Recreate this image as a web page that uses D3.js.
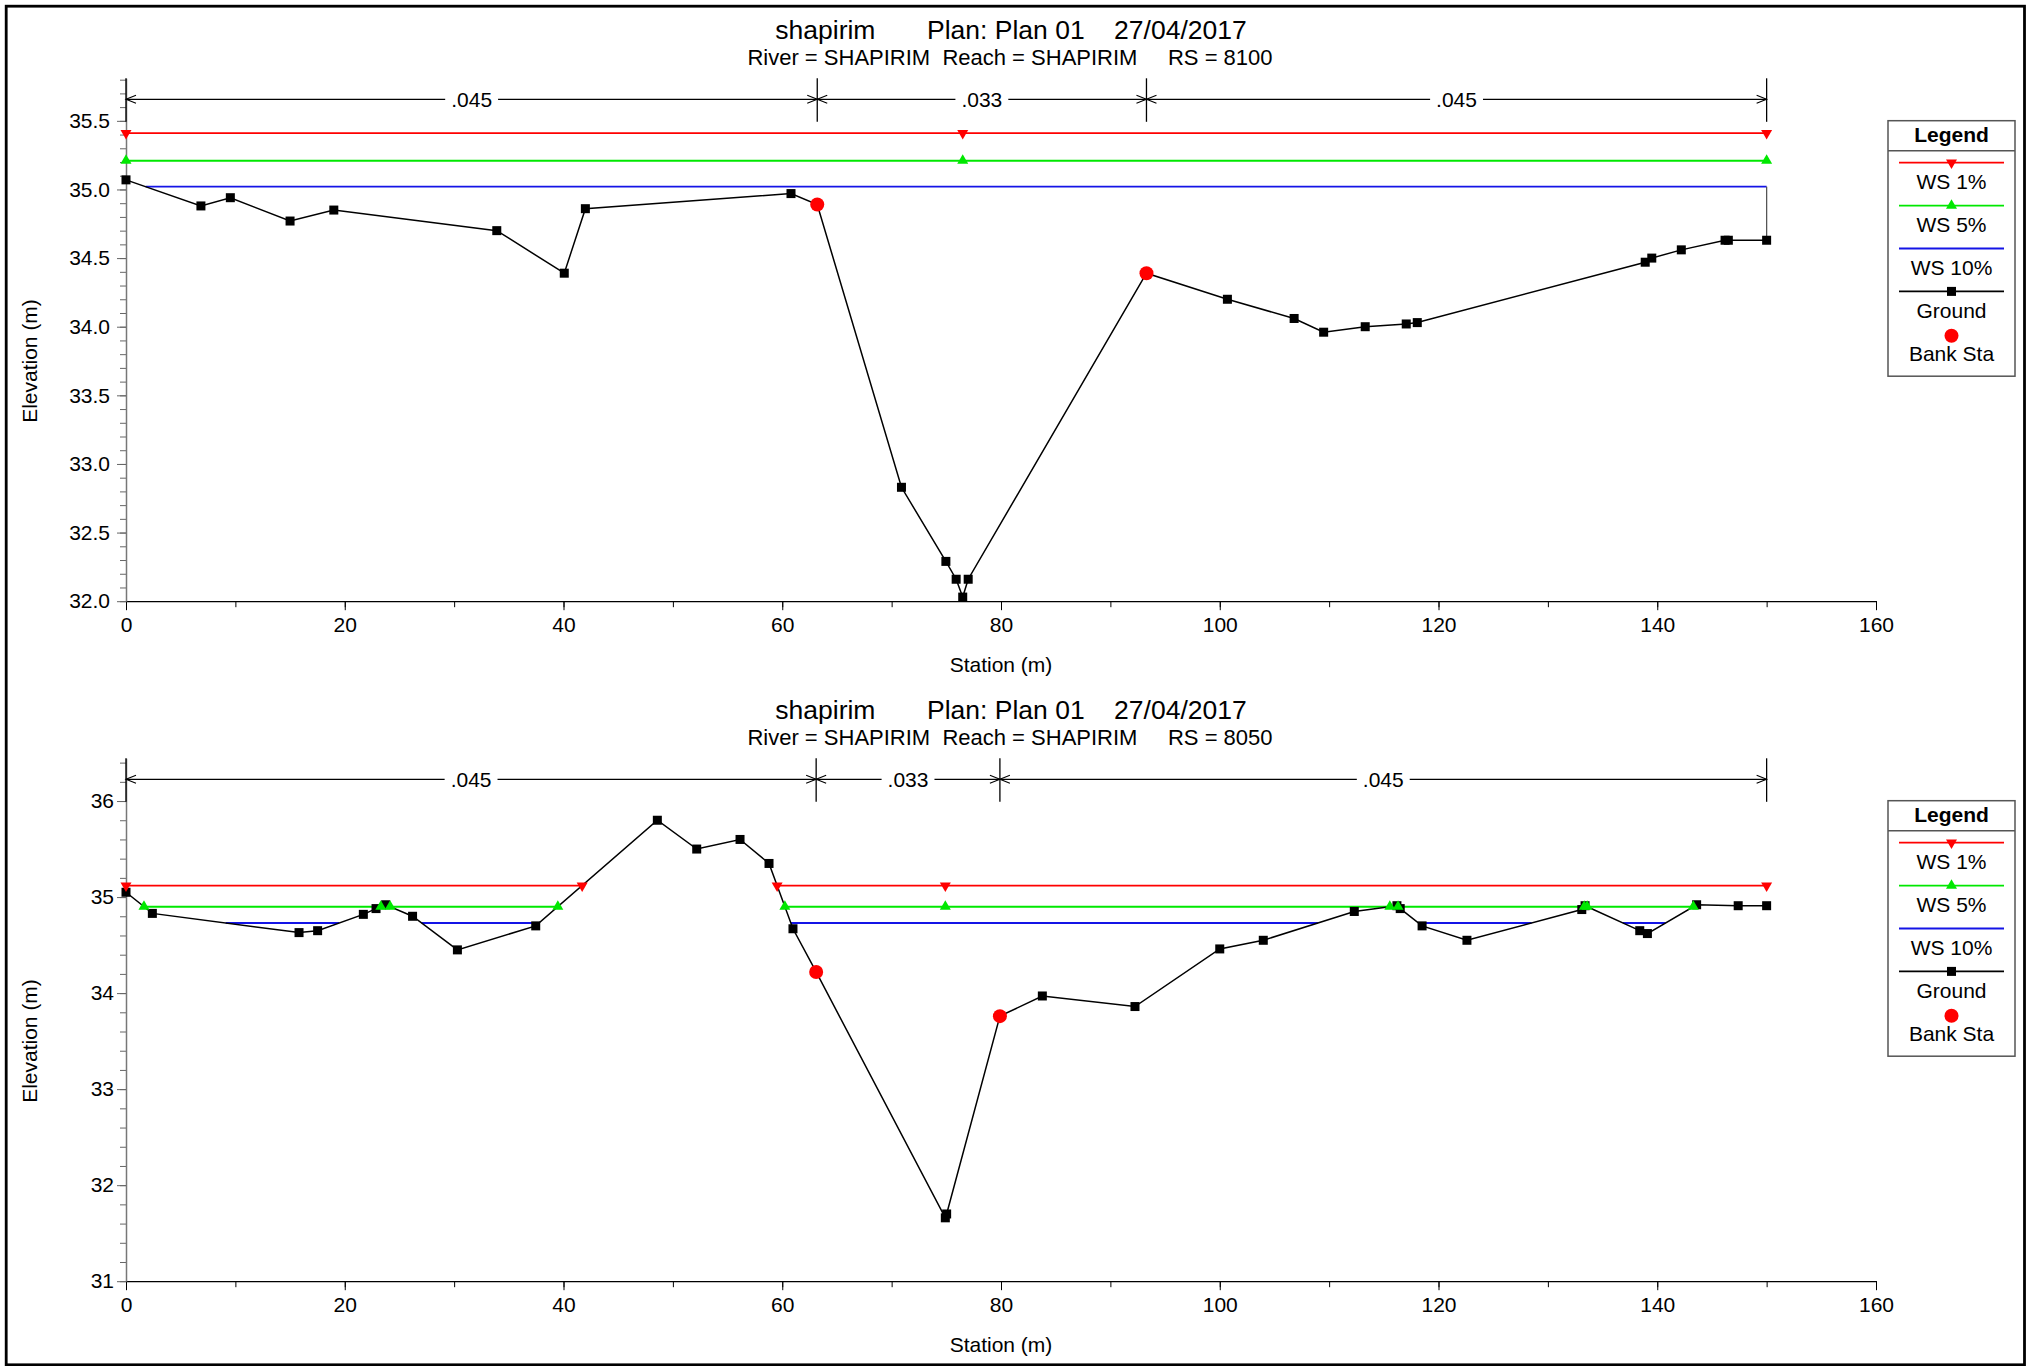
<!DOCTYPE html>
<html>
<head>
<meta charset="utf-8">
<script src="https://cdn.jsdelivr.net/npm/d3@7"></script>
<style>
    body { margin: 0; background: #fff; }
    svg text { font-family: "Liberation Sans", Arial, sans-serif; fill: #000; }
</style>
</head>
<body>
<div id="chart"></div>
<script>

const stationTicks = [0, 20, 40, 60, 80, 100, 120, 140, 160];
const profileNames = ["WS 1%", "WS 5%", "WS 10%"];

// RS 8100
const topStations = [0, 6.85, 9.54, 15.0, 19.0, 33.9, 40.07, 42.0, 60.8, 63.2, 70.9, 74.96, 75.9, 76.5, 77.0,
    93.3, 100.7, 106.8, 109.5, 113.3, 117.05, 118.06, 138.9, 139.5, 142.2, 146.2, 146.5, 150];
const topElevations = [35.07, 34.88, 34.94, 34.77, 34.85, 34.70, 34.39, 34.86, 34.97, 34.89, 32.83, 32.29, 32.16, 32.03, 32.16,
    34.39, 34.20, 34.06, 33.96, 34.00, 34.02, 34.03, 34.47, 34.50, 34.56, 34.63, 34.63, 34.63];
const topBankStations = [63.2, 93.3];
const topWaterSurface = [35.41, 35.21, 35.02];
const topNBreaks = [0, 63.2, 93.3, 150];
const topNValues = [".045", ".033", ".045"];
const topElevTicks = [32.0, 32.5, 33.0, 33.5, 34.0, 34.5, 35.0, 35.5];

// RS 8050
const botStations = [0, 2.41, 15.82, 17.52, 21.7, 22.86, 23.74, 26.2, 30.3, 37.46, 48.58, 52.18, 56.14, 58.79, 60.98, 63.1,
    74.91, 75.03, 79.9, 83.78, 92.25, 100.0, 103.98, 112.3, 116.2, 116.5, 118.5, 122.6, 133.1, 133.4, 138.4, 139.1,
    143.6, 147.4, 150];
const botElevations = [35.05, 34.83, 34.63, 34.65, 34.82, 34.88, 34.92, 34.80, 34.45, 34.70, 35.80, 35.50, 35.60, 35.35, 34.67, 34.22,
    31.66, 31.70, 33.76, 33.97, 33.86, 34.46, 34.55, 34.85, 34.91, 34.88, 34.70, 34.55, 34.87, 34.91, 34.65, 34.62,
    34.92, 34.91, 34.91];
const botBankStations = [63.1, 79.9];
const botWaterSurface = [35.12, 34.90, 34.73];
const botNBreaks = [0, 63.1, 79.9, 150];
const botNValues = [".045", ".033", ".045"];
const botElevTicks = [31, 32, 33, 34, 35, 36];

// styles
const wsColors = ["#ff0000", "#00e800", "#1414e6"];
const wsMarkers = ["down", "up", null];


/* * * * * * * * * * * * * *
*       CrossSection       *
* * * * * * * * * * * * * */

class CrossSection {
    constructor(svg, cfg) {
        this.svg = svg;
        this.cfg = cfg;
        this.initVis();
    }

    initVis() {
        let vis = this;
        let cfg = vis.cfg;

        vis.g = vis.svg.append("g")
            .attr("transform", `translate(0, ${cfg.offsetY})`);

        vis.plotTop = 78.3;
        vis.plotBottom = 601.2;

        vis.x = d3.scaleLinear().domain([0, 160]).range([126, 1876]);
        vis.y = d3.scaleLinear().domain(cfg.yDomain).range([vis.plotBottom, vis.plotTop]);

        // titles
        vis.g.append("text")
            .attr("x", 1011).attr("y", 38.5)
            .attr("text-anchor", "middle")
            .style("font-size", "26.5px")
            .style("white-space", "pre")
            .text("shapirim       Plan: Plan 01    27/04/2017");

        vis.g.append("text")
            .attr("x", 1010).attr("y", 65)
            .attr("text-anchor", "middle")
            .style("font-size", "22px")
            .style("white-space", "pre")
            .text(`River = SHAPIRIM  Reach = SHAPIRIM     RS = ${cfg.rs}`);

        // axes: minor ticks first, then labelled ones
        let xAxisMinor = d3.axisBottom(vis.x).tickValues(d3.range(0, 161, 10)).tickSize(6).tickFormat("");
        let xAxis = d3.axisBottom(vis.x).tickValues(stationTicks).tickSize(9).tickSizeOuter(0).tickPadding(7)
            .tickFormat(d3.format("d"));

        vis.g.append("g").attr("class", "x-minor")
            .attr("transform", `translate(0, ${vis.plotBottom})`)
            .call(xAxisMinor)
            .call(g => g.select(".domain").remove());

        vis.xAxisG = vis.g.append("g")
            .attr("transform", `translate(0, ${vis.plotBottom})`)
            .call(xAxis);

        let yAxisMinor = d3.axisLeft(vis.y).tickValues(cfg.minorTicks).tickSize(6).tickFormat("");
        let yAxis = d3.axisLeft(vis.y).tickValues(cfg.elevTicks).tickSize(9).tickSizeOuter(0)
            .tickPadding(cfg.yPad).tickFormat(d3.format(cfg.yFormat));

        vis.g.append("g")
            .attr("transform", `translate(${vis.x(0)}, 0)`)
            .call(yAxisMinor)
            .call(g => g.select(".domain").remove())
            .selectAll("line").attr("stroke", "#666");

        vis.yAxisG = vis.g.append("g")
            .attr("transform", `translate(${vis.x(0)}, 0)`)
            .call(yAxis);
        vis.yAxisG.select(".domain").attr("stroke", "#777").attr("stroke-width", 1.5);
        vis.yAxisG.selectAll("line").attr("stroke", "#666");

        vis.xAxisG.select(".domain").attr("stroke", "#000").attr("stroke-width", 1.2);
        vis.g.selectAll(".tick text").style("font-size", "21px").attr("fill", "#000");

        // axis titles
        vis.g.append("text")
            .attr("x", 1001).attr("y", 672)
            .attr("text-anchor", "middle")
            .style("font-size", "21px")
            .text("Station (m)");

        vis.g.append("text")
            .attr("transform", `translate(37, 361) rotate(-90)`)
            .attr("text-anchor", "middle")
            .style("font-size", "21px")
            .text("Elevation (m)");

        vis.wrangleData();
    }

    wrangleData() {
        let vis = this;
        let cfg = vis.cfg;

        vis.ground = cfg.stations.map((s, i) => ({ sta: s, elev: cfg.elevations[i] }));
        vis.banks = cfg.banks.map(s => vis.ground.find(p => p.sta === s));
        vis.thalweg = vis.ground.reduce((a, b) => (b.elev < a.elev ? b : a));

        // wet extents of each water surface along the ground profile
        vis.profiles = cfg.ws.map((w, k) => {
            let segs = [];
            let start = null;
            vis.ground.forEach((p, i) => {
                let wet = p.elev < w;
                if (i === 0) {
                    if (wet) start = p.sta;
                    return;
                }
                let q = vis.ground[i - 1];
                if (wet !== (q.elev < w)) {
                    let s = q.sta + (w - q.elev) / (p.elev - q.elev) * (p.sta - q.sta);
                    if (wet) start = s;
                    else { segs.push({ a: start, b: s, openEnd: false }); start = null; }
                }
            });
            let last = vis.ground[vis.ground.length - 1];
            if (start !== null) segs.push({ a: start, b: last.sta, openEnd: true, groundEnd: last.elev });

            let marks = [];
            segs.forEach(sg => {
                marks.push(sg.a, sg.b);
                if (vis.thalweg.sta > sg.a && vis.thalweg.sta < sg.b) marks.push(vis.thalweg.sta);
            });
            return { name: profileNames[k], level: w, color: wsColors[k], marker: wsMarkers[k], segs: segs, marks: marks };
        });

        vis.updateVis();
    }

    updateVis() {
        let vis = this;
        let cfg = vis.cfg;

        // Manning's n bracket across the top
        let nY = 99.3;
        let nG = vis.g.append("g");
        cfg.nBreaks.forEach(b => {
            nG.append("line")
                .attr("x1", vis.x(b)).attr("x2", vis.x(b))
                .attr("y1", vis.plotTop).attr("y2", vis.plotTop + 43.5)
                .attr("stroke", "#000").attr("stroke-width", 1.3);
        });
        cfg.nValues.forEach((n, i) => {
            let x0 = vis.x(cfg.nBreaks[i]), x1 = vis.x(cfg.nBreaks[i + 1]);
            nG.append("line")
                .attr("x1", x0).attr("x2", x1).attr("y1", nY).attr("y2", nY)
                .attr("stroke", "#000").attr("stroke-width", 1.2);
            nG.append("path")
                .attr("d", `M${x0 + 10},${nY - 4}L${x0},${nY}L${x0 + 10},${nY + 4}M${x1 - 10},${nY - 4}L${x1},${nY}L${x1 - 10},${nY + 4}`)
                .attr("fill", "none").attr("stroke", "#000").attr("stroke-width", 1.1);
            let bg = nG.append("rect").attr("fill", "#fff");
            let t = nG.append("text")
                .attr("x", (x0 + x1) / 2).attr("y", nY + 8)
                .attr("text-anchor", "middle")
                .style("font-size", "21px")
                .text(n);
            let w = t.node().getComputedTextLength() + 12;
            bg.attr("x", (x0 + x1) / 2 - w / 2).attr("y", nY - 10).attr("width", w).attr("height", 20);
        });

        // water surfaces
        vis.profiles.forEach((p, k) => {
            p.segs.forEach(sg => {
                vis.g.append("line")
                    .attr("x1", vis.x(sg.a)).attr("x2", vis.x(sg.b))
                    .attr("y1", vis.y(p.level)).attr("y2", vis.y(p.level))
                    .attr("stroke", p.color).attr("stroke-width", k === 1 ? 2 : 1.8);
                // end wall down to ground for the lowest profile
                if (sg.openEnd && k === vis.profiles.length - 1) {
                    vis.g.append("line")
                        .attr("x1", vis.x(sg.b)).attr("x2", vis.x(sg.b))
                        .attr("y1", vis.y(p.level)).attr("y2", vis.y(sg.groundEnd))
                        .attr("stroke", "#555").attr("stroke-width", 1.3);
                }
            });
        });

        // ground line
        let line = d3.line().x(d => vis.x(d.sta)).y(d => vis.y(d.elev));
        vis.g.append("path")
            .datum(vis.ground)
            .attr("d", line)
            .attr("fill", "none")
            .attr("stroke", "#000")
            .attr("stroke-width", 1.5);

        vis.g.selectAll(".gpt")
            .data(vis.ground)
            .enter().append("rect")
            .attr("class", "gpt")
            .attr("x", d => vis.x(d.sta) - 4.5)
            .attr("y", d => vis.y(d.elev) - 4.5)
            .attr("width", 9).attr("height", 9)
            .attr("fill", "#000");

        // profile markers
        vis.profiles.forEach(p => {
            if (!p.marker) return;
            vis.g.selectAll(null)
                .data(p.marks)
                .enter().append("path")
                .attr("d", d => triangle(vis.x(d), vis.y(p.level), p.marker))
                .attr("fill", p.color);
        });

        // bank stations
        vis.g.selectAll(".bank")
            .data(vis.banks)
            .enter().append("circle")
            .attr("class", "bank")
            .attr("cx", d => vis.x(d.sta))
            .attr("cy", d => vis.y(d.elev))
            .attr("r", 7)
            .attr("fill", "#ff0000");

        vis.drawLegend();
    }

    drawLegend() {
        let vis = this;
        let lg = vis.g.append("g");
        let bx = 1888, by = 120.7, bw = 127, bh = 255.5, cx = bx + bw / 2;

        lg.append("rect")
            .attr("x", bx).attr("y", by).attr("width", bw).attr("height", bh)
            .attr("fill", "#fff").attr("stroke", "#555").attr("stroke-width", 1.5);
        lg.append("line")
            .attr("x1", bx).attr("x2", bx + bw).attr("y1", by + 30).attr("y2", by + 30)
            .attr("stroke", "#555").attr("stroke-width", 1.5);
        lg.append("text")
            .attr("x", cx).attr("y", by + 21.5)
            .attr("text-anchor", "middle")
            .style("font-size", "21px").style("font-weight", "bold")
            .text("Legend");

        let entries = vis.profiles.map(p => ({ name: p.name, color: p.color, marker: p.marker }))
            .concat([{ name: "Ground", color: "#000", marker: "square" }, { name: "Bank Sta", color: null, marker: "circle" }]);

        entries.forEach((e, i) => {
            let ly = by + 42 + i * 42.9;
            if (e.color) {
                lg.append("line")
                    .attr("x1", bx + 11).attr("x2", bx + bw - 11)
                    .attr("y1", ly).attr("y2", ly)
                    .attr("stroke", e.color).attr("stroke-width", 1.8);
            }
            if (e.marker === "up" || e.marker === "down") {
                lg.append("path").attr("d", triangle(cx, ly, e.marker)).attr("fill", e.color);
            } else if (e.marker === "square") {
                lg.append("rect").attr("x", cx - 4.5).attr("y", ly - 4.5).attr("width", 9).attr("height", 9).attr("fill", "#000");
            } else if (e.marker === "circle") {
                lg.append("circle").attr("cx", cx).attr("cy", ly + 1.5).attr("r", 7).attr("fill", "#ff0000");
            }
            lg.append("text")
                .attr("x", cx).attr("y", ly + 26.5)
                .attr("text-anchor", "middle")
                .style("font-size", "21px")
                .text(e.name);
        });
    }
}

// triangle centred on its centroid
function triangle(x, y, dir) {
    let h = 9.5, s = 5.5;
    if (dir === "down") return `M${x - s},${y - h / 3}L${x + s},${y - h / 3}L${x},${y + 2 * h / 3}Z`;
    return `M${x - s},${y + h / 3}L${x + s},${y + h / 3}L${x},${y - 2 * h / 3}Z`;
}

let svg = d3.select("#chart").append("svg")
    .attr("width", 2027)
    .attr("height", 1366);

svg.append("rect").attr("width", 2027).attr("height", 1366).attr("fill", "#fff");

new CrossSection(svg, {
    offsetY: 0, rs: 8100,
    stations: topStations, elevations: topElevations, banks: topBankStations, ws: topWaterSurface,
    nBreaks: topNBreaks, nValues: topNValues,
    yDomain: [32, 35.81], elevTicks: topElevTicks, minorTicks: d3.range(320, 359, 1).map(v => v / 10),
    yFormat: ".1f", yPad: 7
});

new CrossSection(svg, {
    offsetY: 680, rs: 8050,
    stations: botStations, elevations: botElevations, banks: botBankStations, ws: botWaterSurface,
    nBreaks: botNBreaks, nValues: botNValues,
    yDomain: [31, 36.445], elevTicks: botElevTicks, minorTicks: d3.range(155, 183, 1).map(v => v / 5),
    yFormat: "d", yPad: 3
});

// outer frame
svg.append("rect")
    .attr("x", 6.2).attr("y", 6.2)
    .attr("width", 2018.3).attr("height", 1358.6)
    .attr("fill", "none")
    .attr("stroke", "#000")
    .attr("stroke-width", 2.8);

</script>
</body>
</html>
